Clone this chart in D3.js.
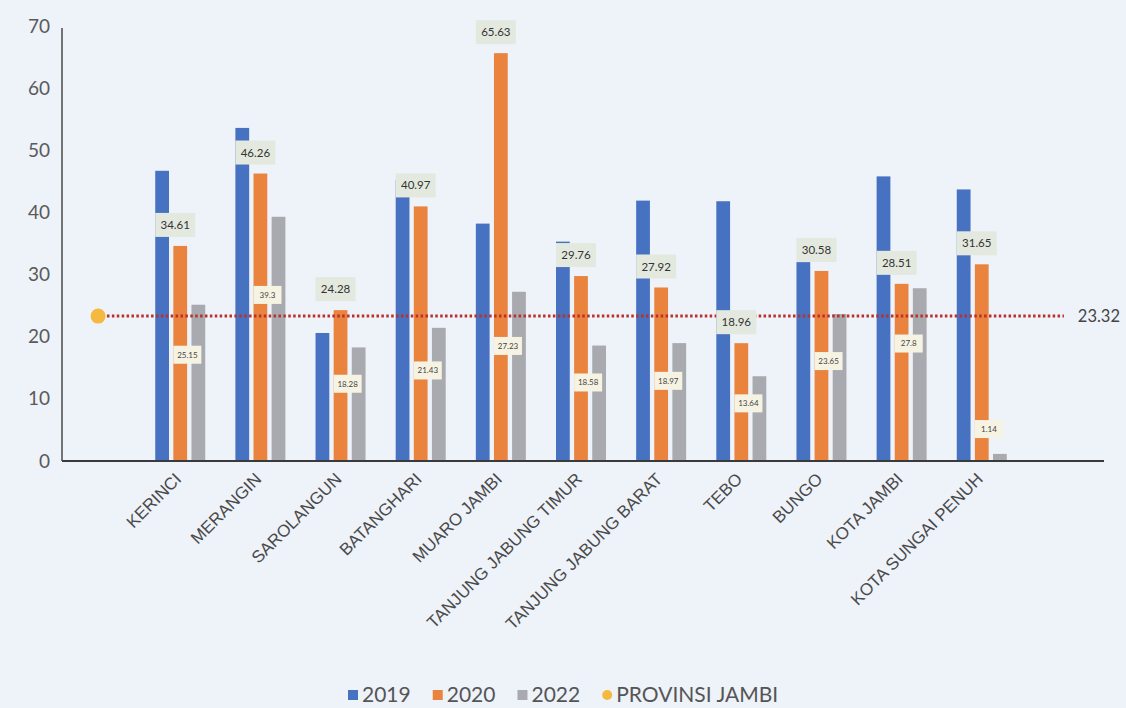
<!DOCTYPE html>
<html>
<head>
<meta charset="utf-8">
<script src="https://cdn.jsdelivr.net/npm/d3@7"></script>
<style>
  html, body { margin: 0; padding: 0; background: #eef2f9; }
  svg { display: block; font-family: Lato, "Open Sans", sans-serif; }
</style>
</head>
<body>
<svg id="chart" width="1126" height="708"></svg>
<script>
// ---------- data ----------
const categories = ["KERINCI", "MERANGIN", "SAROLANGUN", "BATANGHARI", "MUARO JAMBI",
  "TANJUNG JABUNG TIMUR", "TANJUNG JABUNG BARAT", "TEBO", "BUNGO", "KOTA JAMBI", "KOTA SUNGAI PENUH"];
const series = ["2019", "2020", "2022"];
const values2019 = [46.7, 53.6, 20.6, 45.2, 38.2, 35.3, 41.9, 41.8, 32.0, 45.8, 43.7];
const values2020 = [34.61, 46.26, 24.28, 40.97, 65.63, 29.76, 27.92, 18.96, 30.58, 28.51, 31.65];
const values2022 = [25.15, 39.3, 18.28, 21.43, 27.23, 18.58, 18.97, 13.64, 23.65, 27.8, 1.14];
const provinceValue = 23.32;
const provinceLabel = "PROVINSI JAMBI";
const yTicks = [0, 10, 20, 30, 40, 50, 60, 70];

(function () {
// ---------- styling ----------
const colors = { "2019": "#4772c2", "2020": "#e9833d", "2022": "#a8aab0" };
const lineColor = "#b9302c";
const dotColor = "#f5b940";

const svg = d3.select("#chart");
const mLeft = 62, mRight = 1104, mTop = 26, mBottom = 461;

const slots = ["__start", ...categories, "__end"];
const x = d3.scaleBand().domain(slots).range([mLeft, mRight]).paddingInner(0).paddingOuter(0);
const xs = d3.scaleBand().domain(series).range([-27, 23]).paddingInner(0.24);
const y = d3.scaleLinear().domain([0, 70]).range([mBottom, mTop]);

const data = categories.map((c, i) => ({
  cat: c,
  vals: [
    { s: "2019", v: values2019[i] },
    { s: "2020", v: values2020[i] },
    { s: "2022", v: values2022[i] }
  ]
}));

// bars
const groups = svg.append("g").selectAll("g").data(data).join("g")
  .attr("transform", d => `translate(${x(d.cat) + x.bandwidth() / 2},0)`);
groups.selectAll("rect").data(d => d.vals).join("rect")
  .attr("x", d => xs(d.s))
  .attr("width", xs.bandwidth())
  .attr("y", d => y(d.v))
  .attr("height", d => y(0) - y(d.v))
  .attr("fill", d => colors[d.s]);

// y axis
const yAxis = d3.axisLeft(y).tickValues(yTicks).tickSize(0).tickPadding(12);
const gy = svg.append("g").attr("transform", `translate(${mLeft},0)`).call(yAxis);
gy.select(".domain").attr("stroke", "#4a4a4a").attr("stroke-width", 1.5)
  .attr("d", `M0,${y(70) + 2}V${mBottom}`);
gy.selectAll("text").attr("font-size", 19).attr("fill", "#5a5a5a").attr("font-family", "Lato, sans-serif");

// x axis
const xAxis = d3.axisBottom(x).tickSize(0).tickFormat(d => d.startsWith("__") ? "" : d);
const gx = svg.append("g").attr("transform", `translate(0,${mBottom})`).call(xAxis);
gx.select(".domain").attr("stroke", "#3a3a3a").attr("stroke-width", 2).attr("d", `M${mLeft},0H${mRight}`);
gx.selectAll(".tick text")
  .attr("font-size", 17)
  .attr("fill", "#4a4a4a")
  .attr("text-anchor", "end")
  .attr("dy", 0)
  .attr("transform", "translate(-2,17) rotate(-45)");

// province line
const xStart = x("__start") + x.bandwidth() / 2;
const xEnd = x("__end") + x.bandwidth() / 2;
svg.append("line")
  .attr("x1", xStart).attr("x2", xEnd)
  .attr("y1", y(provinceValue)).attr("y2", y(provinceValue))
  .attr("stroke", lineColor).attr("stroke-width", 3)
  .attr("stroke-dasharray", "2.5,2.4");
svg.append("circle")
  .attr("cx", xStart - 4).attr("cy", y(provinceValue)).attr("r", 7.5)
  .attr("fill", dotColor);
svg.append("text")
  .attr("x", xEnd + 35).attr("y", y(provinceValue))
  .attr("dy", "0.35em").attr("text-anchor", "middle")
  .attr("font-size", 16.5).attr("fill", "#444")
  .text(provinceValue.toFixed(2));

// 2020 labels
const lab20 = svg.append("g").selectAll("g").data(data).join("g")
  .attr("transform", (d, i) => `translate(${x(d.cat) + x.bandwidth() / 2 + xs("2020") + xs.bandwidth() / 2 - 5},${y(values2020[i]) - 21})`);
lab20.append("rect").attr("x", -20).attr("y", -12).attr("width", 40).attr("height", 24)
  .attr("fill", "#e3e9de");
lab20.append("text").attr("text-anchor", "middle").attr("dy", "0.35em")
  .attr("font-size", 11.5).attr("fill", "#333")
  .text((d, i) => values2020[i]);

// 2022 labels
const lab22 = svg.append("g").selectAll("g").data(data).join("g")
  .attr("transform", (d, i) => {
    const v = values2022[i];
    const at = v < 5 ? v + 4 : v * 0.68;
    return `translate(${x(d.cat) + x.bandwidth() / 2 + xs("2022") + xs.bandwidth() / 2 - 11},${y(at)})`;
  });
lab22.append("rect").attr("x", -14).attr("y", -9).attr("width", 28).attr("height", 18)
  .attr("fill", "#f7f3e2");
lab22.append("text").attr("text-anchor", "middle").attr("dy", "0.35em")
  .attr("font-size", 8).attr("fill", "#444")
  .text((d, i) => values2022[i]);

// legend
const legendItems = [
  { key: "2019", color: colors["2019"], shape: "rect" },
  { key: "2020", color: colors["2020"], shape: "rect" },
  { key: "2022", color: colors["2022"], shape: "rect" },
  { key: provinceLabel, color: dotColor, shape: "circle" }
];
const lg = svg.append("g").attr("transform", "translate(0,695)");
let lx = 348;
legendItems.forEach(it => {
  const g = lg.append("g").attr("transform", `translate(${lx},0)`);
  if (it.shape === "rect") {
    g.append("rect").attr("x", 0).attr("y", -5).attr("width", 10).attr("height", 10).attr("fill", it.color);
  } else {
    g.append("circle").attr("cx", 5).attr("cy", 0).attr("r", 5).attr("fill", it.color);
  }
  const t = g.append("text").attr("x", 14).attr("dy", "0.35em")
    .attr("font-size", 21).attr("fill", "#555").text(it.key);
  const w = t.node().getComputedTextLength();
  lx += 14 + w + 22;
});
})();
</script>
</body>
</html>
